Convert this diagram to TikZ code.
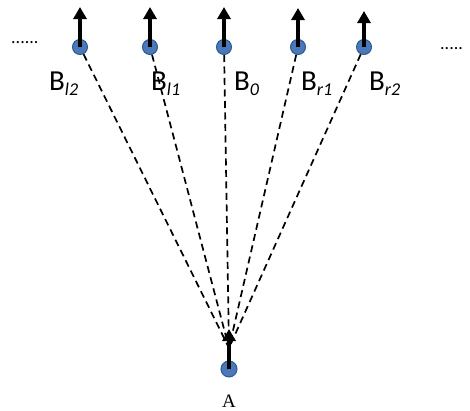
\documentclass[tikz,border=0pt]{standalone}
\usepackage{fontspec}
\setmainfont{Liberation Serif}
\newfontfamily\lblfont{Carlito}
\usetikzlibrary{arrows.meta}
\definecolor{dotfill}{HTML}{4A78B8}
\definecolor{dotedge}{HTML}{2E5A94}
\tikzset{
  pt/.style={circle,fill=dotfill,draw=dotedge,line width=1pt,minimum size=15pt,inner sep=0pt},
  spin/.style={line width=4.2pt,-{Triangle[length=12pt,width=13pt]}},
  link/.style={line width=1.7pt,dash pattern=on 7pt off 4.5pt},
  blabel/.style={anchor=base west,inner sep=0pt,font=\lblfont\fontsize{29}{29}\selectfont},
  dots/.style={anchor=base west,inner sep=0pt,font=\lblfont\fontsize{18}{18}\selectfont}
}
\newcommand{\subl}[1]{\raisebox{-5pt}{\fontsize{18}{18}\selectfont\itshape #1}}
\begin{document}
\begin{tikzpicture}[x=1pt,y=-1pt]
\useasboundingbox (0,0) rectangle (470,410);
% convergence point
\coordinate (c) at (229,348);
% B dots
\node[pt] (bl2) at (80,47) {};
\node[pt] (bl1) at (150,47) {};
\node[pt] (b0) at (224,47) {};
\node[pt] (br1) at (298,47) {};
\node[pt] (br2) at (364,47) {};
\node[pt,minimum size=16pt] (a) at (229,369) {};
% dashed links
\foreach \n in {bl2,bl1,b0,br1,br2}{\draw[link] (\n) -- (c);}
% spins
\coordinate (tl2) at (80,7);
\coordinate (tl1) at (150,7);
\coordinate (t0) at (224,7);
\coordinate (tr1) at (298,8);
\coordinate (tr2) at (364,11);
\coordinate (ta) at (229,329);
\draw[spin] (bl2.center) -- (tl2);
\draw[spin] (bl1.center) -- (tl1);
\draw[spin] (b0.center) -- (t0);
\draw[spin] (br1.center) -- (tr1);
\draw[spin] (br2.center) -- (tr2);
\draw[spin] (a.center) -- (ta);
% labels
\node[blabel] (lbl2) at (49,90) {B\subl{l2}};
\node[blabel] (lbl1) at (151,90) {B\subl{l1}};
\node[blabel] (lb0) at (234,90) {B\subl{0}};
\node[blabel] (lbr1) at (301,90) {B\subl{r1}};
\node[blabel] (lbr2) at (369,90) {B\subl{r2}};
\node[font=\fontsize{19}{19}\selectfont,inner sep=0pt,anchor=base] (la) at (229,407) {A};
% ellipses
\node[dots] (dl) at (11,43) {......};
\node[dots] (dr) at (440,49) {.....};
\end{tikzpicture}
\end{document}
